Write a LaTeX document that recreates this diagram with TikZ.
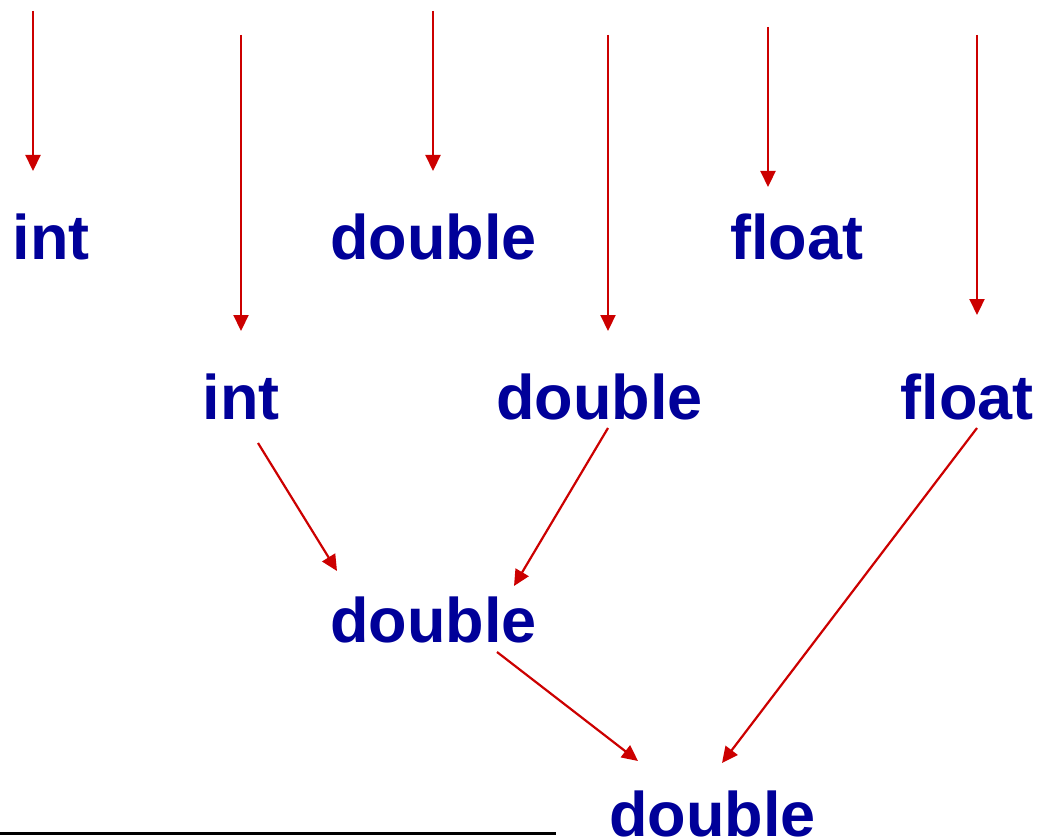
\documentclass[tikz,border=0pt]{standalone}
\usepackage{fontspec}
\setmainfont{Liberation Sans}
\usetikzlibrary{arrows.meta}
\definecolor{txtblue}{RGB}{0,0,153}
\definecolor{arrred}{RGB}{204,0,0}
\begin{document}
\begin{tikzpicture}[x=1pt,y=-1pt,
  typ/.style={anchor=base,inner sep=0pt,text=txtblue,font=\fontsize{63}{70}\selectfont\bfseries},
  conv/.style={draw=arrred,line width=2.2pt,-{Triangle[length=16pt,width=15pt]}}]
\useasboundingbox (0,0) rectangle (1040,837);
% type labels
\node[typ] (i1) at (51,259) {int};
\node[typ] (d1) at (433.5,259) {double};
\node[typ] (f1) at (796.5,259) {float};
\node[typ] (i2) at (241,419) {int};
\node[typ] (d2) at (599.5,419) {double};
\node[typ] (f2) at (967,419) {float};
\node[typ] (d3) at (433.5,642) {double};
\node[typ] (d4) at (712.5,836) {double};
% connector end points
\coordinate (a1s) at (33,11);   \coordinate (a1e) at (33,171);
\coordinate (a2s) at (241,35);  \coordinate (a2e) at (241,331);
\coordinate (a3s) at (433,11);  \coordinate (a3e) at (433,171);
\coordinate (a4s) at (608,35);  \coordinate (a4e) at (608,331);
\coordinate (a5s) at (768,27);  \coordinate (a5e) at (768,187);
\coordinate (a6s) at (977,35);  \coordinate (a6e) at (977,315);
\coordinate (b1s) at (258,443); \coordinate (b1e) at (337,571);
\coordinate (b2s) at (608,428); \coordinate (b2e) at (514,586);
\coordinate (b3s) at (977,428); \coordinate (b3e) at (722,763);
\coordinate (b4s) at (497,652); \coordinate (b4e) at (638,761);
% connectors
\draw[conv] (a1s) -- (a1e);
\draw[conv] (a2s) -- (a2e);
\draw[conv] (a3s) -- (a3e);
\draw[conv] (a4s) -- (a4e);
\draw[conv] (a5s) -- (a5e);
\draw[conv] (a6s) -- (a6e);
\draw[conv] (b1s) -- (b1e);
\draw[conv] (b2s) -- (b2e);
\draw[conv] (b3s) -- (b3e);
\draw[conv] (b4s) -- (b4e);
% rule at bottom left
\coordinate (r1) at (0,833); \coordinate (r2) at (556,833);
\draw[line width=3pt,black] (r1) -- (r2);
\end{tikzpicture}
\end{document}
